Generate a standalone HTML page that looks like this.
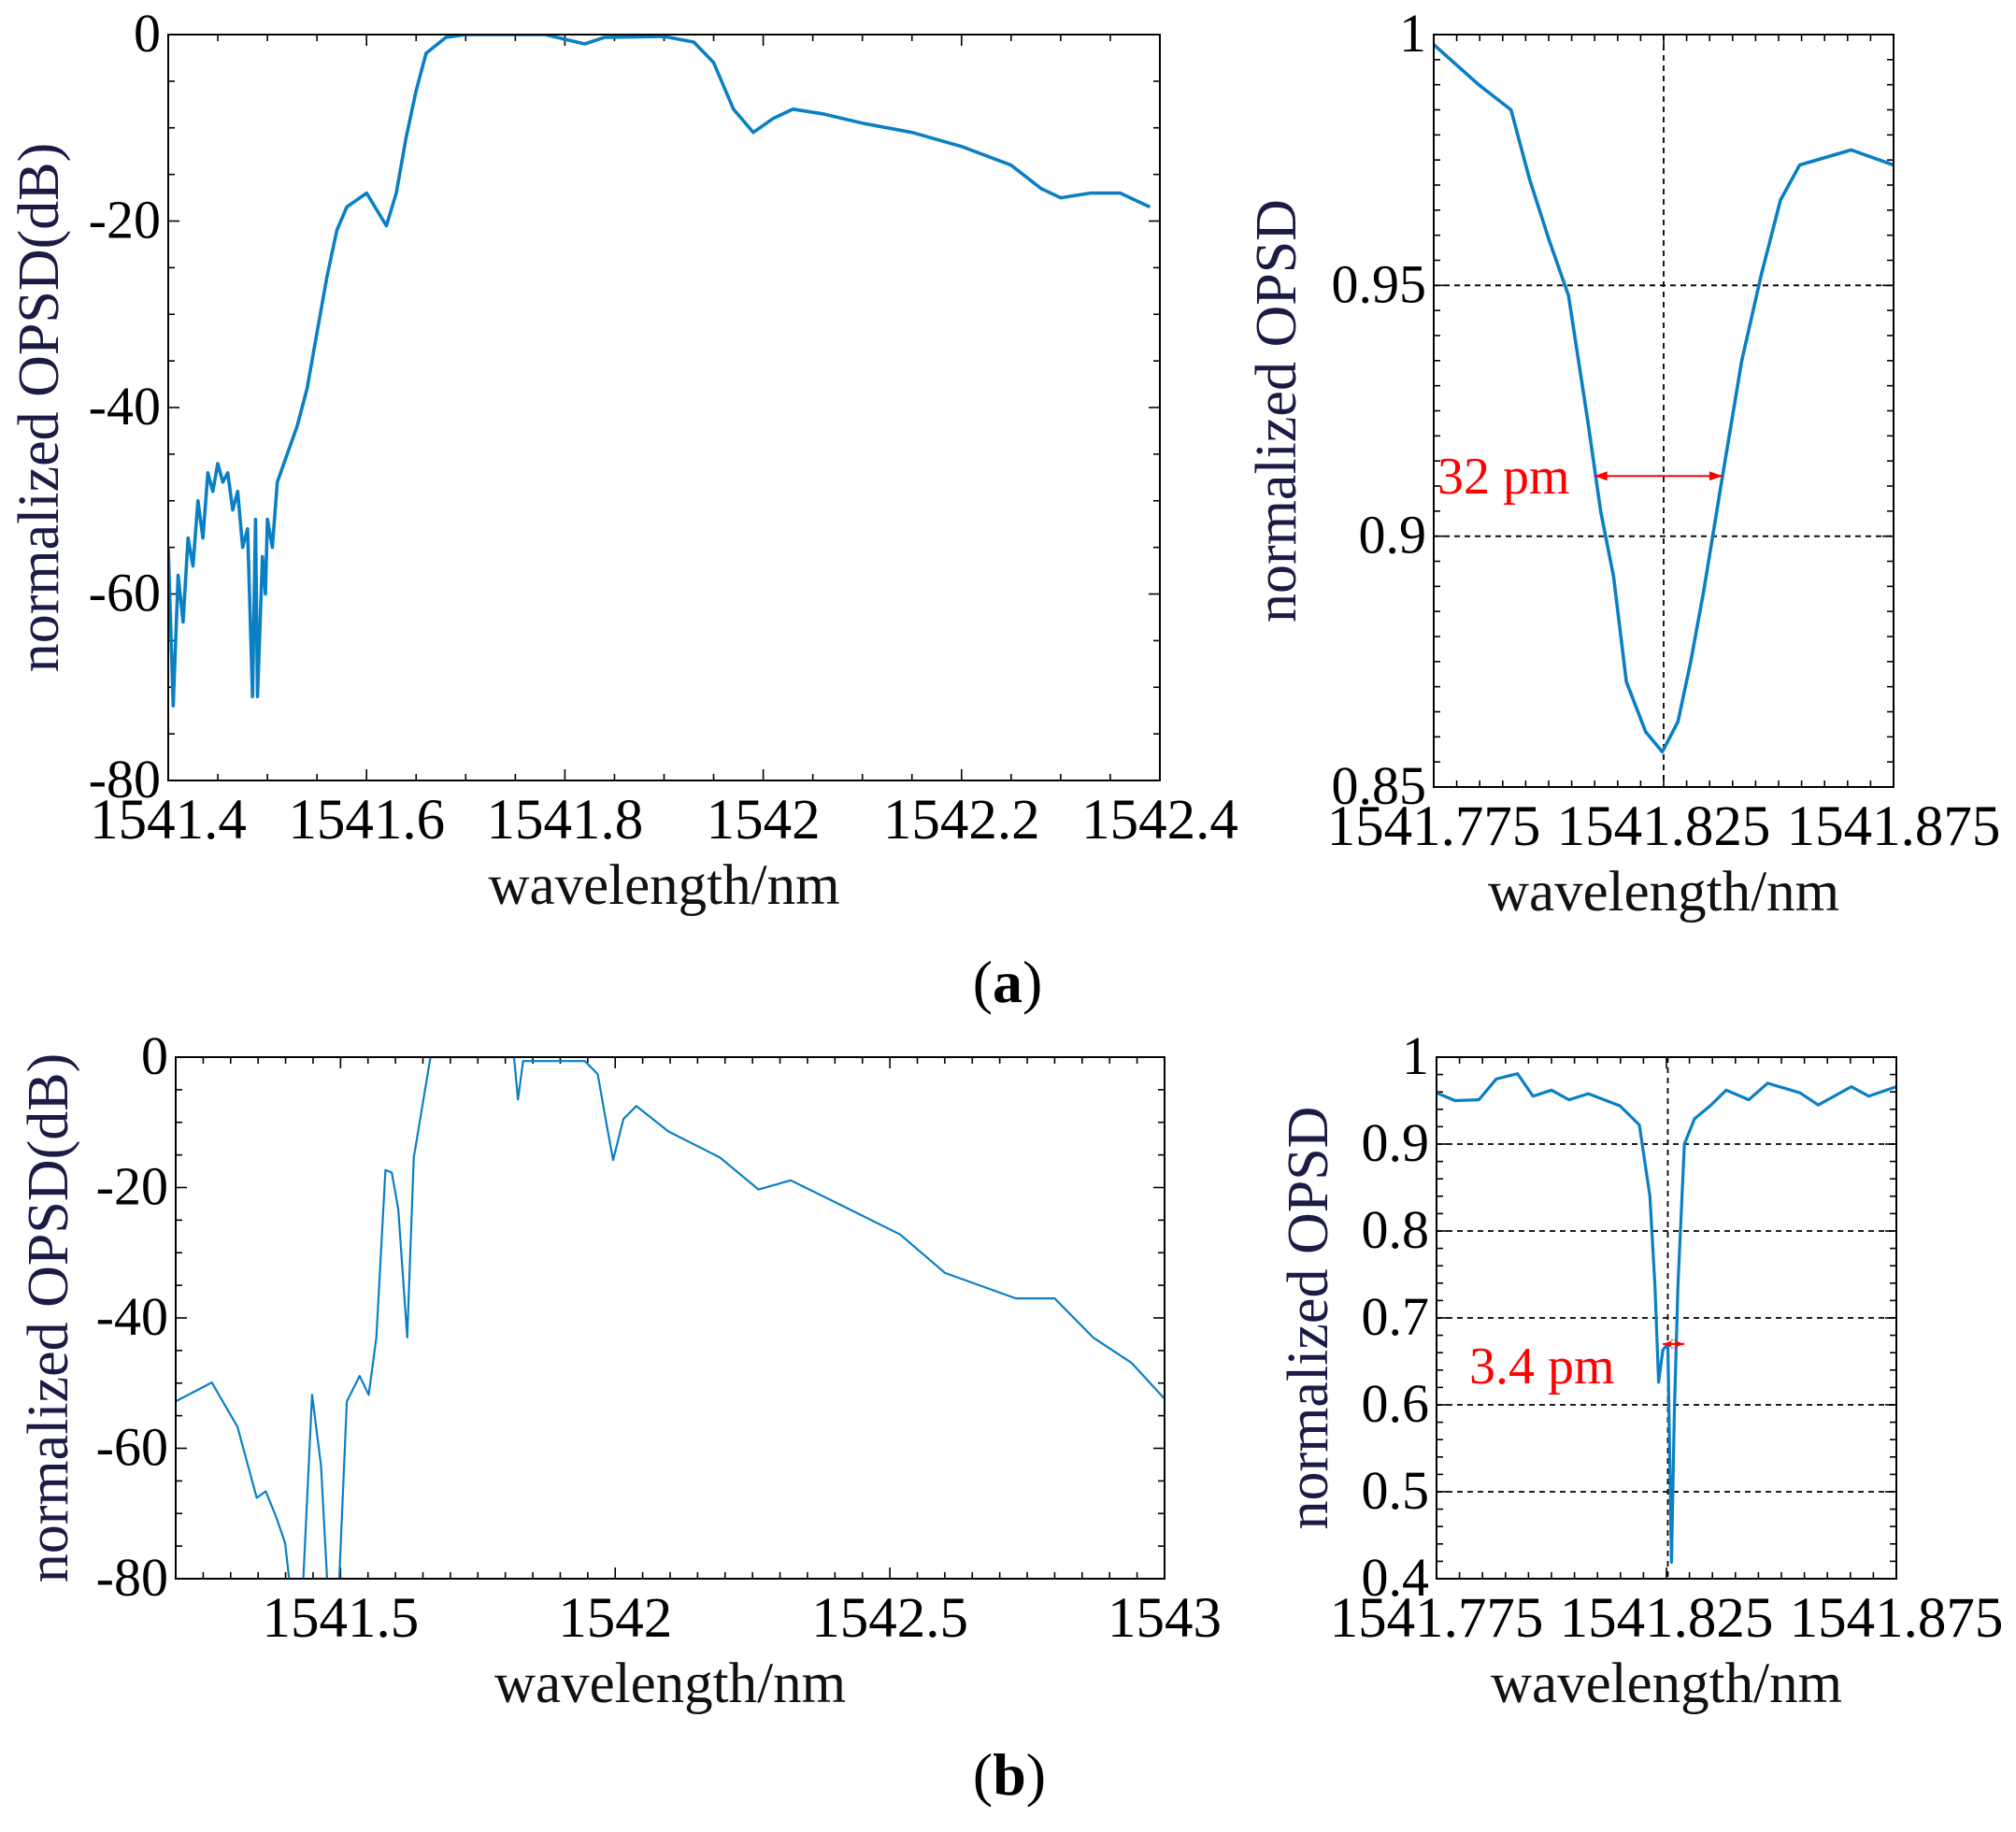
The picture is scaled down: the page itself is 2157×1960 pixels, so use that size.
<!DOCTYPE html>
<html><head><meta charset="utf-8"><style>
html,body{margin:0;padding:0;background:#fff;}
svg{display:block;font-family:"Liberation Serif",serif;}
</style></head><body>
<svg id="fig" width="2157" height="1960" viewBox="0 0 2157 1960" xmlns="http://www.w3.org/2000/svg"></svg>
<script>
// ---- Panel a-left data ----
const a1X = [1541.40,1541.405,1541.41,1541.415,1541.42,1541.425,1541.43,1541.435,1541.44,1541.445,1541.45,1541.455,1541.46,1541.465,1541.47,1541.475,1541.48,1541.485,1541.488,1541.49,1541.495,1541.498,1541.50,1541.505,1541.51,1541.52,1541.53,1541.54,1541.55,1541.56,1541.57,1541.58,1541.60,1541.62,1541.63,1541.64,1541.65,1541.66,1541.68,1541.70,1541.78,1541.80,1541.82,1541.84,1541.90,1541.93,1541.95,1541.97,1541.99,1542.01,1542.03,1542.06,1542.10,1542.15,1542.20,1542.25,1542.28,1542.30,1542.33,1542.36,1542.39];
const a1Y = [-55,-72,-58,-63,-54,-57,-50,-54,-47,-49,-46,-48,-47,-51,-49,-55,-53,-71,-52,-71,-56,-60,-52,-55,-48,-45,-42,-38,-32,-26,-21,-18.5,-17,-20.5,-17,-11,-6,-2,-0.3,0,0,-0.5,-1,-0.3,-0.2,-0.8,-3,-8,-10.5,-9,-8,-8.5,-9.5,-10.5,-12,-14,-16.5,-17.5,-17,-17,-18.5];
const a1XTicks = ["1541.4","1541.6","1541.8","1542","1542.2","1542.4"];
const a1YTicks = ["0","-20","-40","-60","-80"];
// ---- Panel a-right data ----
const a2X = [1541.775,1541.7848,1541.7918,1541.7959,1541.8001,1541.8043,1541.8085,1541.8113,1541.8141,1541.8169,1541.8211,1541.8247,1541.8281,1541.8309,1541.8337,1541.8378,1541.8420,1541.8462,1541.8504,1541.8546,1541.8658,1541.875];
const a2Y = [0.998,0.990,0.985,0.971,0.959,0.948,0.923,0.905,0.892,0.871,0.861,0.857,0.863,0.875,0.889,0.912,0.935,0.952,0.967,0.974,0.977,0.974];
const a2XTicks = ["1541.775","1541.825","1541.875"];
const a2YTicks = ["1","0.95","0.9","0.85"];
// ---- Panel b-left data ----
const b1X = [1541.2,1541.2656,1541.3124,1541.3475,1541.3639,1541.3827,1541.3991,1541.4131,1541.4295,1541.4482,1541.4646,1541.4787,1541.4951,1541.5115,1541.5349,1541.5513,1541.5653,1541.5817,1541.5934,1541.6051,1541.6215,1541.6333,1541.6637,1541.8159,1541.8230,1541.8323,1541.9447,1541.9681,1541.9845,1541.9963,1542.0150,1542.0384,1542.0970,1542.1906,1542.2609,1542.3194,1542.4014,1542.5185,1542.6005,1542.7293,1542.8,1542.8698,1542.9400,1543.0];
const b1Y = [-52.8,-49.9,-56.7,-67.6,-66.6,-70.5,-74.5,-85,-85,-51.8,-62.7,-85,-85,-52.8,-48.9,-51.8,-43,-17.3,-17.7,-23.3,-43,-15.4,0,0,-6.5,-0.6,-0.6,-2.6,-10.4,-15.8,-9.5,-7.5,-11.4,-15.4,-20.3,-18.9,-22.3,-27.2,-33.1,-37,-37,-43,-46.9,-52.4];
const b1XTicks = ["1541.5","1542","1542.5","1543"];
const b1XTickVals = [1541.5,1542,1542.5,1543];
const b1YTicks = ["0","-20","-40","-60","-80"];
// ---- Panel b-right data ----
const b2X = [1541.775,1541.779,1541.7842,1541.788,1541.7926,1541.796,1541.800,1541.8038,1541.808,1541.8149,1541.8191,1541.8214,1541.8225,1541.8233,1541.8242,1541.8253,1541.8258,1541.8261,1541.8267,1541.8275,1541.8289,1541.8311,1541.8345,1541.838,1541.8429,1541.847,1541.8540,1541.858,1541.8652,1541.869,1541.875];
const b2Y = [0.959,0.950,0.951,0.975,0.981,0.955,0.962,0.951,0.958,0.944,0.922,0.84,0.737,0.626,0.663,0.670,0.515,0.419,0.589,0.737,0.900,0.929,0.944,0.962,0.951,0.97,0.959,0.945,0.966,0.955,0.966];
const b2XTicks = ["1541.775","1541.825","1541.875"];
const b2YTicks = ["1","0.9","0.8","0.7","0.6","0.5","0.4"];

const NS="http://www.w3.org/2000/svg";
const svg=document.getElementById('fig');
function mk(tag,attrs,parent){const e=document.createElementNS(NS,tag);for(const k in attrs)e.setAttribute(k,attrs[k]);(parent||svg).appendChild(e);return e;}

function panel(o){
  const g=mk('g',{});
  
  
  const sx=v=>o.L+(v-o.x0)/(o.x1-o.x0)*(o.R-o.L);
  const sy=v=>o.B-(v-o.y0)/(o.y1-o.y0)*(o.B-o.T);
  const cp=mk('clipPath',{id:'c'+o.name},g);
  mk('rect',{x:o.L,y:o.T,width:o.R-o.L,height:o.B-o.T},cp);
  (o.gridY||[]).forEach(v=>{const l=mk('line',{x1:o.L,x2:o.R,y1:sy(v),y2:sy(v),stroke:'#000','stroke-width':1.8,'stroke-dasharray':'6,5'},g);
    
    });
  (o.gridX||[]).forEach(v=>{const l=mk('line',{y1:o.T,y2:o.B,x1:sx(v),x2:sx(v),stroke:'#000','stroke-width':1.8,'stroke-dasharray':'6,5'},g);
    
    });
  for(let v=o.x0;v<=o.x1+1e-9;v+=o.xMinor){const x=sx(v);const mj=Math.abs(((v-o.xMajBase)/o.xMajor)-Math.round((v-o.xMajBase)/o.xMajor))<1e-6;const len=mj?12:7;
    mk('line',{x1:x,x2:x,y1:o.B,y2:o.B-len,stroke:'#000','stroke-width':1.6},g);mk('line',{x1:x,x2:x,y1:o.T,y2:o.T+len,stroke:'#000','stroke-width':1.6},g);}
  for(let v=o.y0;v<=o.y1+1e-9;v+=o.yMinor){const y=sy(v);const mj=Math.abs(((v-o.y0)/o.yMajor)-Math.round((v-o.y0)/o.yMajor))<1e-6;const len=mj?12:7;
    mk('line',{y1:y,y2:y,x1:o.L,x2:o.L+len,stroke:'#000','stroke-width':1.6},g);mk('line',{y1:y,y2:y,x1:o.R,x2:o.R-len,stroke:'#000','stroke-width':1.6},g);}
  let d='';o.xs.forEach((v,i)=>{d+=(i?'L':'M')+sx(v).toFixed(1)+' '+sy(o.ys[i]).toFixed(1);});
  const p=mk('path',{d:d,fill:'none',stroke:'#0a7fc4','stroke-width':o.lw,'stroke-linejoin':'round','clip-path':'url(#c'+o.name+')'},g);
  
  
  const fr=mk('rect',{x:o.L,y:o.T,width:o.R-o.L,height:o.B-o.T,fill:'none',stroke:'#000','stroke-width':2},g);
  
  
  o.xLabels.forEach((s,i)=>{const t=mk('text',{x:sx(o.xLabelVals[i]),y:o.B+62,'font-size':61,'text-anchor':'middle',fill:'#000'},g);t.textContent=s;
    
    });
  o.yLabels.forEach((s,i)=>{const t=mk('text',{x:o.L-8,y:sy(o.yLabelVals[i])+18,'font-size':58,'text-anchor':'end',fill:'#000'},g);t.textContent=s;
    
    });
  const xt=mk('text',{x:(o.L+o.R)/2,y:o.B+132,'font-size':61,'text-anchor':'middle',fill:'#111'},g);xt.textContent='wavelength/nm';
  
  
  const yt=mk('text',{x:0,y:0,'font-size':62,'text-anchor':'middle',fill:'#1b1b45',transform:'translate('+o.yTitleX+','+((o.T+o.B)/2)+') rotate(-90)'},g);yt.textContent=o.yTitle;
  
  
  return {sx,sy,g};
}
function arrow(P,xa,xb,yv,g){
  const y=P.sy(yv),x1=P.sx(xa),x2=P.sx(xb);
  const a=mk('g',{},g);
  
  
  mk('line',{x1:x1,x2:x2,y1:y,y2:y,stroke:'#f00','stroke-width':2},a);
  mk('path',{d:`M${x1} ${y}l14 -5v10z M${x2} ${y}l-14 -5v10z`,fill:'#f00'},a);
}
const A1=panel({name:'panel-a-left',L:180,R:1241,T:37,B:835,x0:1541.4,x1:1542.4,y0:-80,y1:0,xMinor:0.05,xMajor:0.2,xMajBase:1541.4,yMinor:5,yMajor:20,
  xs:a1X,ys:a1Y,lw:3.6,xLabels:a1XTicks,xLabelVals:a1XTicks.map(Number),yLabels:a1YTicks,yLabelVals:a1YTicks.map(Number),yTitle:'normalized OPSD(dB)',yTitleX:62});
const A2=panel({name:'panel-a-right',L:1534,R:2026,T:37,B:842,x0:1541.775,x1:1541.875,y0:0.85,y1:1,xMinor:0.005,xMajor:0.05,xMajBase:1541.775,yMinor:0.005,yMajor:0.05,
  xs:a2X,ys:a2Y,lw:3.6,xLabels:a2XTicks,xLabelVals:a2XTicks.map(Number),yLabels:a2YTicks,yLabelVals:a2YTicks.map(Number),yTitle:'normalized OPSD',yTitleX:1386,gridY:[0.95,0.9],gridX:[1541.825]});
arrow(A2,1541.8099,1541.8378,0.912,A2.g);
const t1=mk('text',{x:1538,y:528,'font-size':56,fill:'#f00'});t1.textContent='32 pm';


const B1=panel({name:'panel-b-left',L:188,R:1246,T:1131,B:1689,x0:1541.2,x1:1543,y0:-80,y1:0,xMinor:0.05,xMajor:0.5,xMajBase:1541.5,yMinor:5,yMajor:20,
  xs:b1X,ys:b1Y,lw:2.2,xLabels:b1XTicks,xLabelVals:b1XTickVals,yLabels:b1YTicks,yLabelVals:b1YTicks.map(Number),yTitle:'normalized OPSD(dB)',yTitleX:72});
const B2=panel({name:'panel-b-right',L:1537,R:2029,T:1131,B:1689,x0:1541.775,x1:1541.875,y0:0.4,y1:1,xMinor:0.005,xMajor:0.05,xMajBase:1541.775,yMinor:0.02,yMajor:0.1,
  xs:b2X,ys:b2Y,lw:3.2,xLabels:b2XTicks,xLabelVals:b2XTicks.map(Number),yLabels:b2YTicks,yLabelVals:b2YTicks.map(Number),yTitle:'normalized OPSD',yTitleX:1420,gridY:[0.9,0.8,0.7,0.6,0.5],gridX:[1541.8253]});
arrow(B2,1541.8242,1541.8289,0.67,B2.g);
const t2=mk('text',{x:1572,y:1480,'font-size':56,fill:'#f00'});t2.textContent='3.4 pm';


const la=mk('text',{x:1078,y:1072,'font-size':64,'text-anchor':'middle',fill:'#000'});la.innerHTML='(<tspan font-weight="bold">a</tspan>)';


const lb=mk('text',{x:1080,y:1920,'font-size':64,'text-anchor':'middle',fill:'#000'});lb.innerHTML='(<tspan font-weight="bold">b</tspan>)';


</script>
</body></html>
